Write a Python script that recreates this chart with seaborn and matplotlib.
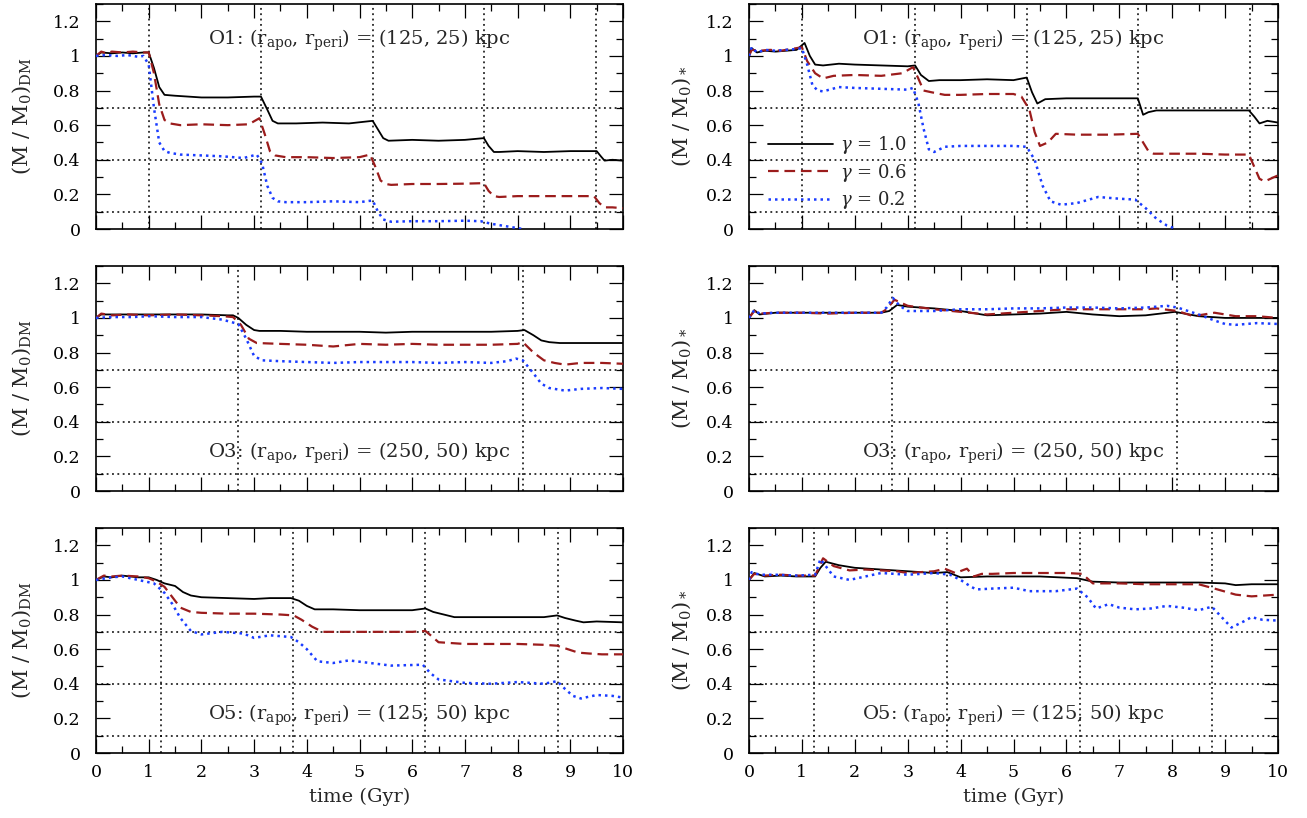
import matplotlib
matplotlib.use("Agg")
import matplotlib.pyplot as plt
from matplotlib.ticker import MultipleLocator, FuncFormatter
import seaborn as sns

# ---- data (time in Gyr, bound mass fraction) ----
# orbit O1, dark matter
t_o1_dm_10 = [0, 0.1, 0.3, 0.5, 0.7, 0.9, 1.0, 1.1, 1.2, 1.3, 1.5, 2.0, 2.5, 3.0, 3.13, 3.25, 3.35, 3.45, 3.8, 4.3,
              4.8, 5.25, 5.35, 5.45, 5.55, 6.0, 6.5, 7.0, 7.36, 7.45, 7.55, 7.65, 8.0, 8.5, 9.0, 9.5, 9.58, 9.65, 9.8, 10.0]
m_o1_dm_10 = [1.0, 1.02, 1.015, 1.02, 1.015, 1.02, 1.02, 0.93, 0.82, 0.775, 0.77, 0.76, 0.76, 0.765, 0.765, 0.69, 0.625, 0.61, 0.61, 0.615,
              0.61, 0.625, 0.575, 0.525, 0.51, 0.515, 0.51, 0.515, 0.525, 0.48, 0.445, 0.445, 0.45, 0.445, 0.45, 0.45, 0.42, 0.395, 0.4, 0.395]
t_o1_dm_06 = [0, 0.1, 0.2, 0.3, 0.5, 0.7, 0.9, 1.0, 1.1, 1.2, 1.3, 1.4, 1.6, 2.0, 2.5, 2.9, 3.1, 3.2, 3.3, 3.4, 3.6, 4.0,
              4.5, 5.0, 5.2, 5.3, 5.4, 5.5, 5.6, 6.0, 6.5, 7.0, 7.36, 7.45, 7.55, 7.65, 8.0, 8.5, 9.0, 9.45, 9.55, 9.65, 9.8, 10.0]
m_o1_dm_06 = [1.0, 1.025, 1.015, 1.025, 1.02, 1.025, 1.02, 1.02, 0.9, 0.72, 0.63, 0.61, 0.6, 0.605, 0.6, 0.605, 0.64, 0.55, 0.45, 0.425, 0.415, 0.415,
              0.41, 0.415, 0.43, 0.36, 0.28, 0.26, 0.255, 0.26, 0.26, 0.262, 0.265, 0.22, 0.19, 0.185, 0.19, 0.19, 0.19, 0.19, 0.15, 0.125, 0.125, 0.12]
t_o1_dm_02 = [0, 0.2, 0.4, 0.6, 0.8, 0.9, 1.0, 1.1, 1.2, 1.3, 1.4, 1.6, 2.0, 2.4, 2.8, 3.05, 3.15, 3.25, 3.35, 3.45, 3.6,
              4.0, 4.5, 5.0, 5.25, 5.35, 5.45, 5.6, 6.0, 6.5, 7.0, 7.3, 7.5, 7.7, 7.9, 8.1]
m_o1_dm_02 = [1.0, 1.005, 1.0, 1.005, 0.995, 1.0, 0.95, 0.7, 0.5, 0.45, 0.44, 0.43, 0.425, 0.42, 0.41, 0.43, 0.38, 0.25, 0.18, 0.16, 0.155,
              0.155, 0.16, 0.155, 0.165, 0.1, 0.055, 0.042, 0.045, 0.045, 0.048, 0.045, 0.03, 0.02, 0.01, 0.0]

# orbit O1, stars
t_o1_st_10 = [0, 0.05, 0.15, 0.3, 0.5, 0.7, 0.9, 1.05, 1.15, 1.25, 1.4, 1.7, 2.0, 2.5, 3.0, 3.14, 3.25, 3.4, 3.6, 4.0, 4.5,
              5.0, 5.25, 5.35, 5.45, 5.6, 6.0, 6.5, 7.0, 7.35, 7.45, 7.55, 7.7, 8.0, 8.5, 9.0, 9.45, 9.55, 9.65, 9.8, 10.0]
m_o1_st_10 = [1.0, 1.045, 1.02, 1.03, 1.025, 1.03, 1.035, 1.075, 1.0, 0.95, 0.945, 0.955, 0.95, 0.945, 0.94, 0.945, 0.89, 0.855, 0.86, 0.86, 0.865,
              0.86, 0.875, 0.79, 0.725, 0.75, 0.755, 0.755, 0.755, 0.755, 0.66, 0.675, 0.685, 0.685, 0.685, 0.685, 0.685, 0.65, 0.61, 0.625, 0.615]
t_o1_st_06 = [0, 0.05, 0.2, 0.4, 0.6, 0.8, 1.0, 1.1, 1.25, 1.4, 1.6, 2.0, 2.5, 2.9, 3.1, 3.2, 3.3, 3.45, 3.7, 4.0, 4.5,
              5.0, 5.15, 5.3, 5.4, 5.5, 5.65, 5.8, 6.2, 6.8, 7.35, 7.45, 7.55, 7.65, 8.0, 8.5, 9.0, 9.45, 9.55, 9.65, 9.75, 10.0]
m_o1_st_06 = [1.0, 1.035, 1.03, 1.035, 1.03, 1.04, 1.05, 0.97, 0.9, 0.87, 0.885, 0.89, 0.885, 0.9, 0.935, 0.87, 0.8, 0.79, 0.775, 0.775, 0.78,
              0.78, 0.765, 0.69, 0.56, 0.48, 0.5, 0.55, 0.545, 0.545, 0.55, 0.5, 0.45, 0.435, 0.435, 0.435, 0.43, 0.43, 0.36, 0.29, 0.275, 0.31]
t_o1_st_02 = [0, 0.05, 0.15, 0.3, 0.5, 0.7, 0.9, 1.0, 1.1, 1.2, 1.3, 1.4, 1.7, 2.0, 2.5, 3.0, 3.1, 3.2, 3.3, 3.4, 3.5, 3.7,
              4.0, 4.5, 5.0, 5.25, 5.4, 5.55, 5.7, 5.9, 6.2, 6.6, 7.0, 7.3, 7.5, 7.7, 7.9, 8.08]
m_o1_st_02 = [1.0, 1.05, 1.02, 1.035, 1.03, 1.035, 1.04, 1.045, 0.95, 0.83, 0.8, 0.795, 0.82, 0.815, 0.81, 0.805, 0.815, 0.73, 0.58, 0.46, 0.445, 0.475,
              0.48, 0.48, 0.48, 0.475, 0.4, 0.25, 0.16, 0.14, 0.15, 0.185, 0.175, 0.17, 0.12, 0.06, 0.02, 0.0]

# orbit O3, dark matter
t_o3_dm_10 = [0, 0.1, 0.5, 1.0, 1.5, 2.0, 2.5, 2.6, 2.7, 2.85, 3.0, 3.1, 3.5, 4.0, 4.5, 5.0, 5.5, 6.0, 6.5, 7.0, 7.5, 8.0,
              8.13, 8.3, 8.45, 8.6, 8.8, 9.0, 9.5, 10.0]
m_o3_dm_10 = [1.0, 1.02, 1.02, 1.02, 1.02, 1.02, 1.015, 1.015, 1.0, 0.96, 0.93, 0.925, 0.925, 0.92, 0.92, 0.92, 0.915, 0.92, 0.92, 0.92, 0.92, 0.925,
              0.93, 0.9, 0.87, 0.86, 0.855, 0.855, 0.855, 0.855]
t_o3_dm_06 = [0, 0.1, 0.3, 0.6, 1.0, 1.5, 2.0, 2.4, 2.6, 2.75, 2.9, 3.05, 3.5, 4.0, 4.5, 5.0, 5.5, 6.0, 6.5, 7.0, 7.5, 8.0, 8.1,
              8.3, 8.5, 8.7, 8.9, 9.2, 9.6, 10.0]
m_o3_dm_06 = [1.0, 1.025, 1.015, 1.02, 1.015, 1.02, 1.015, 1.01, 1.005, 0.96, 0.88, 0.855, 0.85, 0.845, 0.835, 0.85, 0.845, 0.85, 0.845, 0.845, 0.845, 0.85, 0.86,
              0.8, 0.755, 0.74, 0.73, 0.74, 0.74, 0.735]
t_o3_dm_02 = [0, 0.3, 0.7, 1.0, 1.5, 2.0, 2.4, 2.7, 2.85, 3.0, 3.15, 3.5, 4.0, 4.5, 5.0, 5.5, 6.0, 6.5, 7.0, 7.5, 7.8, 7.97, 8.1,
              8.3, 8.45, 8.6, 8.9, 9.2, 9.6, 10.0]
m_o3_dm_02 = [1.0, 1.005, 1.005, 1.01, 1.005, 1.005, 0.99, 0.965, 0.88, 0.78, 0.755, 0.75, 0.745, 0.74, 0.745, 0.745, 0.745, 0.74, 0.745, 0.74, 0.75, 0.765, 0.755,
              0.68, 0.62, 0.595, 0.58, 0.59, 0.595, 0.59]

# orbit O3, stars
t_o3_st_10 = [0, 0.1, 0.2, 0.5, 1.0, 1.5, 2.0, 2.5, 2.65, 2.8, 3.0, 3.5, 4.0, 4.5, 5.0, 5.5, 6.0, 6.5, 7.0, 7.5, 8.05, 8.5,
              9.0, 9.5, 10.0]
m_o3_st_10 = [1.0, 1.045, 1.02, 1.03, 1.03, 1.03, 1.03, 1.03, 1.04, 1.075, 1.065, 1.055, 1.04, 1.015, 1.02, 1.025, 1.035, 1.02, 1.01, 1.015, 1.035, 1.01,
              1.0, 1.0, 1.0]
t_o3_st_06 = [0, 0.1, 0.2, 0.5, 1.0, 1.5, 2.0, 2.5, 2.6, 2.75, 3.0, 3.5, 4.0, 4.5, 5.0, 5.5, 6.0, 6.5, 7.0, 7.5, 7.7, 8.1,
              8.4, 8.8, 9.2, 9.6, 10.0]
m_o3_st_06 = [1.0, 1.04, 1.025, 1.03, 1.03, 1.025, 1.03, 1.03, 1.05, 1.105, 1.07, 1.05, 1.035, 1.02, 1.03, 1.04, 1.05, 1.05, 1.05, 1.05, 1.055, 1.04,
              1.01, 1.03, 1.01, 1.01, 1.0]
t_o3_st_02 = [0, 0.1, 0.2, 0.5, 1.0, 1.5, 2.0, 2.5, 2.6, 2.72, 2.85, 3.0, 3.5, 4.0, 4.5, 5.0, 5.5, 6.0, 6.5, 7.0, 7.5, 7.9, 8.1,
              8.5, 8.8, 9.0, 9.2, 9.6, 10.0]
m_o3_st_02 = [1.0, 1.045, 1.025, 1.03, 1.03, 1.03, 1.03, 1.03, 1.06, 1.115, 1.07, 1.04, 1.04, 1.05, 1.05, 1.055, 1.055, 1.06, 1.06, 1.055, 1.06, 1.07, 1.06,
              1.02, 0.985, 0.965, 0.96, 0.97, 0.965]

# orbit O5, dark matter
t_o5_dm_10 = [0, 0.15, 0.3, 0.5, 0.8, 1.0, 1.15, 1.3, 1.5, 1.65, 1.8, 2.0, 2.5, 3.0, 3.3, 3.7, 3.85, 4.0, 4.15, 4.5, 5.0, 5.5,
              6.0, 6.25, 6.4, 6.6, 6.8, 7.0, 7.5, 8.0, 8.5, 8.75, 8.9, 9.1, 9.25, 9.5, 10.0]
m_o5_dm_10 = [1.0, 1.02, 1.015, 1.025, 1.015, 1.015, 1.0, 0.98, 0.965, 0.93, 0.91, 0.9, 0.895, 0.89, 0.895, 0.895, 0.88, 0.85, 0.83, 0.83, 0.825, 0.825,
              0.825, 0.835, 0.815, 0.8, 0.785, 0.785, 0.785, 0.785, 0.785, 0.795, 0.78, 0.765, 0.755, 0.76, 0.755]
t_o5_dm_06 = [0, 0.15, 0.3, 0.5, 0.8, 1.0, 1.15, 1.3, 1.45, 1.6, 1.8, 2.0, 2.5, 3.0, 3.5, 3.75, 3.9, 4.1, 4.3, 4.7, 5.0, 5.5,
              6.0, 6.25, 6.35, 6.5, 7.0, 7.5, 8.0, 8.5, 8.75, 8.95, 9.15, 9.35, 9.6, 10.0]
m_o5_dm_06 = [1.0, 1.025, 1.02, 1.025, 1.02, 1.01, 0.99, 0.96, 0.9, 0.84, 0.815, 0.81, 0.805, 0.805, 0.8, 0.795, 0.77, 0.73, 0.7, 0.7, 0.7, 0.7,
              0.7, 0.705, 0.68, 0.64, 0.63, 0.63, 0.63, 0.625, 0.62, 0.6, 0.58, 0.575, 0.57, 0.57]
t_o5_dm_02 = [0, 0.3, 0.5, 0.8, 1.1, 1.3, 1.45, 1.6, 1.8, 2.0, 2.4, 2.8, 3.0, 3.3, 3.7, 3.85, 4.0, 4.2, 4.5, 4.8, 5.2, 5.6, 6.2, 6.35, 6.5,
              7.0, 7.5, 8.0, 8.5, 8.75, 8.9, 9.05, 9.2, 9.5, 9.8, 10.0]
m_o5_dm_02 = [1.0, 1.015, 1.02, 1.0, 0.98, 0.925, 0.86, 0.78, 0.705, 0.685, 0.7, 0.69, 0.665, 0.68, 0.67, 0.64, 0.6, 0.53, 0.52, 0.535, 0.52, 0.505, 0.51, 0.46, 0.425,
              0.405, 0.4, 0.41, 0.4, 0.415, 0.37, 0.33, 0.315, 0.335, 0.33, 0.32]

# orbit O5, stars
t_o5_st_10 = [0, 0.1, 0.3, 0.6, 0.9, 1.25, 1.35, 1.45, 1.7, 2.0, 2.5, 3.0, 3.5, 3.75, 4.0, 4.5, 5.0, 5.5, 6.2, 6.5, 7.0, 7.5, 8.0, 8.5, 9.0,
              9.2, 9.5, 10.0]
m_o5_st_10 = [1.0, 1.04, 1.02, 1.025, 1.02, 1.02, 1.07, 1.105, 1.085, 1.07, 1.06, 1.05, 1.04, 1.045, 1.015, 1.02, 1.02, 1.02, 1.01, 0.99, 0.985, 0.985, 0.985, 0.985, 0.98,
              0.97, 0.975, 0.975]
t_o5_st_06 = [0, 0.1, 0.3, 0.6, 0.9, 1.25, 1.4, 1.6, 1.9, 2.2, 2.8, 3.0, 3.5, 3.7, 3.9, 4.12, 4.25, 4.4, 4.6, 5.0, 5.5, 6.0, 6.3, 6.5, 7.0,
              7.5, 8.0, 8.5, 8.8, 9.2, 9.5, 10.0]
m_o5_st_06 = [1.0, 1.035, 1.025, 1.03, 1.025, 1.025, 1.125, 1.08, 1.055, 1.06, 1.05, 1.04, 1.05, 1.065, 1.04, 1.065, 1.02, 1.035, 1.035, 1.04, 1.04, 1.04, 1.035, 0.98, 0.98,
              0.975, 0.975, 0.975, 0.95, 0.915, 0.905, 0.915]
t_o5_st_02 = [0, 0.05, 0.2, 0.5, 0.9, 1.25, 1.35, 1.6, 1.9, 2.2, 2.5, 3.0, 3.5, 3.8, 4.0, 4.2, 4.3, 4.6, 5.0, 5.3, 5.8, 6.2, 6.4, 6.56, 6.8, 7.0,
              7.3, 7.6, 7.9, 8.2, 8.5, 8.75, 8.95, 9.12, 9.35, 9.5, 9.7, 10.0]
m_o5_st_02 = [1.0, 1.045, 1.03, 1.03, 1.025, 1.03, 1.12, 1.02, 1.0, 1.02, 1.04, 1.03, 1.04, 1.03, 1.0, 0.96, 0.945, 0.95, 0.955, 0.935, 0.935, 0.95, 0.9, 0.835, 0.86, 0.84,
              0.83, 0.835, 0.85, 0.84, 0.825, 0.845, 0.78, 0.725, 0.76, 0.785, 0.77, 0.765]

# pericentre passages and reference levels (dotted lines)
peri_o1 = [1.0, 3.13, 5.25, 7.36, 9.48]
peri_o3 = [2.7, 8.1]
peri_o5 = [1.23, 3.74, 6.25, 8.76]
ref_levels = [0.1, 0.4, 0.7]

gamma_labels = [r'$\gamma$ = 1.0', r'$\gamma$ = 0.6', r'$\gamma$ = 0.2']
orbit_labels = [r'O1: (r$_{\rm apo}$, r$_{\rm peri}$) = (125, 25) kpc',
                r'O3: (r$_{\rm apo}$, r$_{\rm peri}$) = (250, 50) kpc',
                r'O5: (r$_{\rm apo}$, r$_{\rm peri}$) = (125, 50) kpc']
orbit_label_y = [1.09, 0.215, 0.215]

# ---- style ----
sns.set_style('ticks')
plt.rcParams['font.family'] = ['DejaVu Serif']
plt.rcParams['mathtext.fontset'] = 'dejavuserif'

line_styles = [dict(color='black', linestyle='-', lw=1.3),
               dict(color='#9b1c1c', linestyle=(0, (4.8, 2.6)), lw=1.6),
               dict(color='#1a3cff', linestyle=(0, (1, 1.6)), lw=1.8)]
ref_style = dict(color='black', linestyle=(0, (1.2, 2.3)), lw=1.1, zorder=1)

rows = [
    ([(t_o1_dm_10, m_o1_dm_10), (t_o1_dm_06, m_o1_dm_06), (t_o1_dm_02, m_o1_dm_02)],
     [(t_o1_st_10, m_o1_st_10), (t_o1_st_06, m_o1_st_06), (t_o1_st_02, m_o1_st_02)], peri_o1),
    ([(t_o3_dm_10, m_o3_dm_10), (t_o3_dm_06, m_o3_dm_06), (t_o3_dm_02, m_o3_dm_02)],
     [(t_o3_st_10, m_o3_st_10), (t_o3_st_06, m_o3_st_06), (t_o3_st_02, m_o3_st_02)], peri_o3),
    ([(t_o5_dm_10, m_o5_dm_10), (t_o5_dm_06, m_o5_dm_06), (t_o5_dm_02, m_o5_dm_02)],
     [(t_o5_st_10, m_o5_st_10), (t_o5_st_06, m_o5_st_06), (t_o5_st_02, m_o5_st_02)], peri_o5),
]

W, H = 1307, 818
fig = plt.figure(figsize=(W / 100, H / 100), dpi=100)

col_left = [96 / W, 749 / W]
col_width = [527 / W, 529 / W]
row_bottom = [(H - 229) / H, (H - 491) / H, (H - 753) / H]
row_height = 225 / H

ylabels = [r'(M / M$_0$)$_{\rm DM}$', r'(M / M$_0$)$_*$']
ylabel_x = [-0.12, -0.105]
fmt = FuncFormatter(lambda v, p: '%g' % round(v, 2))

for i, (dm_series, st_series, peri) in enumerate(rows):
    for j, series in enumerate([dm_series, st_series]):
        ax = fig.add_axes([col_left[j], row_bottom[i], col_width[j], row_height])
        for level in ref_levels:
            ax.axhline(level, **ref_style)
        for tp in peri:
            ax.axvline(tp, **ref_style)

        for k, (t, m) in enumerate(series):
            sns.lineplot(x=t, y=m, ax=ax, sort=False, errorbar=None,
                         label=gamma_labels[k] if (i == 0 and j == 1) else None,
                         zorder=3, **line_styles[k])

        ax.text(5.0, orbit_label_y[i], orbit_labels[i], ha='center', va='center', fontsize=14)

        ax.set_xlim(0, 10)
        ax.set_ylim(0, 1.3)
        ax.xaxis.set_major_locator(MultipleLocator(1))
        ax.xaxis.set_minor_locator(MultipleLocator(0.5))
        ax.yaxis.set_major_locator(MultipleLocator(0.2))
        ax.yaxis.set_minor_locator(MultipleLocator(0.1))
        ax.yaxis.set_major_formatter(fmt)
        ax.tick_params(which='both', direction='in', top=True, right=True, width=0.9,
                       labelsize=12.5, colors='black')
        ax.tick_params(which='major', length=10)
        ax.tick_params(which='minor', length=5)
        ax.tick_params(axis='y', which='major', pad=11)
        ax.tick_params(axis='x', which='major', pad=8)
        for sp in ax.spines.values():
            sp.set_linewidth(1.2)
            sp.set_color('black')

        ax.set_ylabel(ylabels[j], fontsize=15)
        ax.yaxis.set_label_coords(ylabel_x[j], 0.5)
        if i == 2:
            ax.set_xlabel('time (Gyr)', fontsize=14, labelpad=5)
        else:
            ax.set_xlabel('')
            ax.tick_params(labelbottom=False)

        leg = ax.get_legend()
        if leg is not None:
            leg.remove()
        if i == 0 and j == 1:
            ax.legend(loc='center left', bbox_to_anchor=(0.035, 0.25), frameon=False,
                      fontsize=13, handlelength=3.6, handletextpad=0.4,
                      labelspacing=0.3, borderpad=0, borderaxespad=0)

fig.savefig('out.png', dpi=100)
